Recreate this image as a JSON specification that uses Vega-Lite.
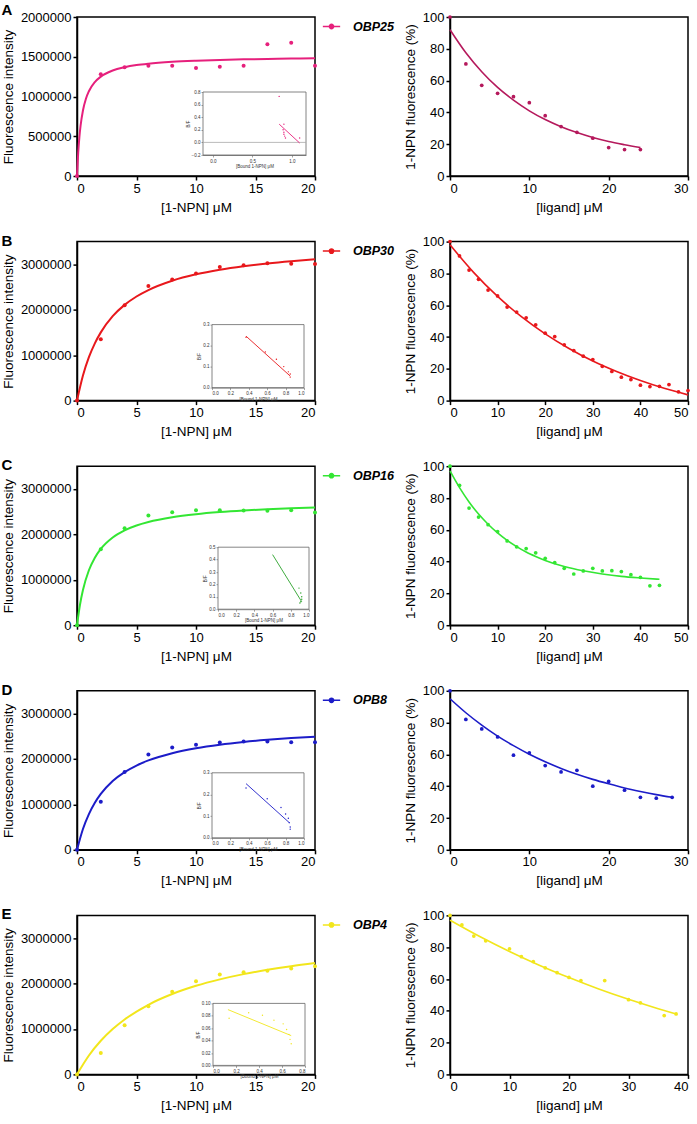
{
"$schema": "https://vega.github.io/schema/vega-lite/v6.json",
"padding": {"left": 0, "top": 2, "right": 0, "bottom": 0},
"background": "white",
"config": {
  "font": "Liberation Sans",
  "view": {"stroke": "black", "strokeWidth": 1.5},
  "axis": {"grid": false, "labelOverlap": false, "domainColor": "black", "domainWidth": 1.5, "tickColor": "black", "tickWidth": 1.5, "tickSize": 4, "labelFontSize": 13, "labelColor": "black", "titleFontSize": 13.5, "titleFontWeight": "normal", "titleColor": "black", "labelPadding": 2, "titlePadding": 5},
  "title": {"fontSize": 15, "fontWeight": "bold", "anchor": "start", "frame": "bounds", "offset": -7, "color": "black"},
  "legend": {"orient": "right", "offset": 7, "padding": 0, "title": null, "symbolType": "M-1,0H1M-0.25,0A0.25,0.25,0,1,1,0.25,0A0.25,0.25,0,1,1,-0.25,0Z", "symbolSize": 300, "symbolStrokeWidth": 1.5, "labelFontSize": 12.5, "labelFontStyle": "italic", "labelFontWeight": "bold", "labelColor": "black", "labelOffset": 12}
},
"datasets": {
  "a_pts": [{"conc":0,"intensity":0},{"conc":2,"intensity":1281000},{"conc":4,"intensity":1369000},{"conc":6,"intensity":1387000},{"conc":8,"intensity":1387000},{"conc":10,"intensity":1357000},{"conc":12,"intensity":1374000},{"conc":14,"intensity":1387000},{"conc":16,"intensity":1656000},{"conc":18,"intensity":1677000},{"conc":20,"intensity":1387000}],
  "a_fit": [{"conc":0,"intensity":0},{"conc":0.1,"intensity":292000},{"conc":0.2,"intensity":490000},{"conc":0.3,"intensity":632000},{"conc":0.5,"intensity":824000},{"conc":0.75,"intensity":971000},{"conc":1,"intensity":1066000},{"conc":1.5,"intensity":1182000},{"conc":2,"intensity":1250000},{"conc":3,"intensity":1327000},{"conc":4,"intensity":1368000},{"conc":5,"intensity":1395000},{"conc":6,"intensity":1413000},{"conc":8,"intensity":1436000},{"conc":10,"intensity":1450000},{"conc":12,"intensity":1460000},{"conc":14,"intensity":1467000},{"conc":16,"intensity":1472000},{"conc":18,"intensity":1477000},{"conc":20,"intensity":1480000}],
  "a_ins_pts": [{"bound":0.84,"bf":0.73},{"bound":0.9,"bf":0.29},{"bound":0.89,"bf":0.2},{"bound":0.9,"bf":0.16},{"bound":0.9,"bf":0.13},{"bound":0.91,"bf":0.1},{"bound":0.92,"bf":0.07},{"bound":1.1,"bf":0.07}],
  "a_ins_fit": [{"bound":0.84,"bf":0.29},{"bound":1.1,"bf":-0.01}],
  "a_cpts": [{"ligand":0,"pct":100},{"ligand":2,"pct":70.5},{"ligand":4,"pct":57},{"ligand":6,"pct":52},{"ligand":8,"pct":49.9},{"ligand":10,"pct":46.1},{"ligand":12,"pct":37.9},{"ligand":14,"pct":31.1},{"ligand":16,"pct":27.5},{"ligand":18,"pct":23.8},{"ligand":20,"pct":17.9},{"ligand":22,"pct":16.6},{"ligand":24,"pct":16.6}],
  "a_cfit": [{"ligand":0,"pct":92},{"ligand":2,"pct":77.5},{"ligand":4,"pct":65.6},{"ligand":6,"pct":55.7},{"ligand":8,"pct":47.7},{"ligand":10,"pct":41},{"ligand":12,"pct":35.5},{"ligand":14,"pct":31},{"ligand":16,"pct":27.3},{"ligand":18,"pct":24.2},{"ligand":20,"pct":21.7},{"ligand":22,"pct":19.7},{"ligand":24,"pct":17.9}],
  "b_pts": [{"conc":0,"intensity":0},{"conc":2,"intensity":1349000},{"conc":4,"intensity":2098000},{"conc":6,"intensity":2520000},{"conc":8,"intensity":2667000},{"conc":10,"intensity":2800000},{"conc":12,"intensity":2942000},{"conc":14,"intensity":2978000},{"conc":16,"intensity":3022000},{"conc":18,"intensity":3015000},{"conc":20,"intensity":3008000}],
  "b_fit": [{"conc":0,"intensity":0},{"conc":0.5,"intensity":551000},{"conc":1,"intensity":955000},{"conc":1.5,"intensity":1261000},{"conc":2,"intensity":1502000},{"conc":3,"intensity":1858000},{"conc":4,"intensity":2107000},{"conc":5,"intensity":2292000},{"conc":6,"intensity":2434000},{"conc":8,"intensity":2639000},{"conc":10,"intensity":2780000},{"conc":12,"intensity":2882000},{"conc":14,"intensity":2959000},{"conc":16,"intensity":3020000},{"conc":18,"intensity":3069000},{"conc":20,"intensity":3110000}],
  "b_ins_pts": [{"bound":0.37,"bf":0.24},{"bound":0.58,"bf":0.17},{"bound":0.7,"bf":0.135},{"bound":0.78,"bf":0.1},{"bound":0.83,"bf":0.075},{"bound":0.85,"bf":0.065},{"bound":0.85,"bf":0.05}],
  "b_ins_fit": [{"bound":0.37,"bf":0.245},{"bound":0.85,"bf":0.055}],
  "b_cpts": [{"ligand":0,"pct":100},{"ligand":2,"pct":91},{"ligand":4,"pct":82.1},{"ligand":6,"pct":76.3},{"ligand":8,"pct":69.5},{"ligand":10,"pct":65.8},{"ligand":12,"pct":58.8},{"ligand":14,"pct":55.7},{"ligand":16,"pct":52.1},{"ligand":18,"pct":47.7},{"ligand":20,"pct":42.4},{"ligand":22,"pct":40.3},{"ligand":24,"pct":35.1},{"ligand":26,"pct":31.5},{"ligand":28,"pct":27.9},{"ligand":30,"pct":25.8},{"ligand":32,"pct":21.6},{"ligand":34,"pct":18.3},{"ligand":36,"pct":14.7},{"ligand":38,"pct":13.2},{"ligand":40,"pct":9.7},{"ligand":42,"pct":8.8},{"ligand":44,"pct":9},{"ligand":46,"pct":10.1},{"ligand":48,"pct":5.5},{"ligand":50,"pct":6.3}],
  "b_cfit": [{"ligand":0,"pct":98},{"ligand":5,"pct":80.5},{"ligand":10,"pct":65.5},{"ligand":15,"pct":52.8},{"ligand":20,"pct":42},{"ligand":25,"pct":32.8},{"ligand":30,"pct":24.9},{"ligand":35,"pct":18.3},{"ligand":40,"pct":12.6},{"ligand":45,"pct":7.7},{"ligand":50,"pct":3.6}],
  "c_pts": [{"conc":0,"intensity":0},{"conc":2,"intensity":1673000},{"conc":4,"intensity":2133000},{"conc":6,"intensity":2413000},{"conc":8,"intensity":2489000},{"conc":10,"intensity":2533000},{"conc":12,"intensity":2533000},{"conc":14,"intensity":2526000},{"conc":16,"intensity":2518000},{"conc":18,"intensity":2533000},{"conc":20,"intensity":2480000}],
  "c_fit": [{"conc":0,"intensity":0},{"conc":0.25,"intensity":450000},{"conc":0.5,"intensity":774000},{"conc":1,"intensity":1209000},{"conc":1.5,"intensity":1487000},{"conc":2,"intensity":1680000},{"conc":3,"intensity":1932000},{"conc":4,"intensity":2088000},{"conc":5,"intensity":2194000},{"conc":6,"intensity":2271000},{"conc":8,"intensity":2376000},{"conc":10,"intensity":2443000},{"conc":12,"intensity":2490000},{"conc":14,"intensity":2525000},{"conc":16,"intensity":2552000},{"conc":18,"intensity":2573000},{"conc":20,"intensity":2590000}],
  "c_ins_pts": [{"bound":0.89,"bf":0.17},{"bound":0.91,"bf":0.13},{"bound":0.92,"bf":0.1},{"bound":0.92,"bf":0.08},{"bound":0.91,"bf":0.06},{"bound":0.9,"bf":0.05}],
  "c_ins_fit": [{"bound":0.6,"bf":0.44},{"bound":0.92,"bf":0.06}],
  "c_cpts": [{"ligand":0,"pct":100},{"ligand":2,"pct":88},{"ligand":4,"pct":73.7},{"ligand":6,"pct":68},{"ligand":8,"pct":63.2},{"ligand":10,"pct":58.9},{"ligand":12,"pct":53},{"ligand":14,"pct":49.3},{"ligand":16,"pct":48.2},{"ligand":18,"pct":45.5},{"ligand":20,"pct":42.1},{"ligand":22,"pct":39.4},{"ligand":24,"pct":35.8},{"ligand":26,"pct":32.2},{"ligand":28,"pct":34.1},{"ligand":30,"pct":35.8},{"ligand":32,"pct":34.1},{"ligand":34,"pct":34.3},{"ligand":36,"pct":33.7},{"ligand":38,"pct":31.8},{"ligand":40,"pct":30.1},{"ligand":42,"pct":24.8},{"ligand":44,"pct":25.1}],
  "c_cfit": [{"ligand":0,"pct":97},{"ligand":2,"pct":86.5},{"ligand":4,"pct":77.5},{"ligand":6,"pct":69.9},{"ligand":8,"pct":63.5},{"ligand":10,"pct":58},{"ligand":12,"pct":53.3},{"ligand":14,"pct":49.4},{"ligand":16,"pct":46},{"ligand":18,"pct":43.2},{"ligand":20,"pct":40.7},{"ligand":24,"pct":36.9},{"ligand":28,"pct":34.2},{"ligand":32,"pct":32.2},{"ligand":36,"pct":30.7},{"ligand":40,"pct":29.7},{"ligand":44,"pct":28.9}],
  "d_pts": [{"conc":0,"intensity":0},{"conc":2,"intensity":1055000},{"conc":4,"intensity":1711000},{"conc":6,"intensity":2100000},{"conc":8,"intensity":2250000},{"conc":10,"intensity":2310000},{"conc":12,"intensity":2360000},{"conc":14,"intensity":2383000},{"conc":16,"intensity":2383000},{"conc":18,"intensity":2368000},{"conc":20,"intensity":2368000}],
  "d_fit": [{"conc":0,"intensity":0},{"conc":0.5,"intensity":457000},{"conc":1,"intensity":786000},{"conc":1.5,"intensity":1035000},{"conc":2,"intensity":1229000},{"conc":3,"intensity":1513000},{"conc":4,"intensity":1710000},{"conc":5,"intensity":1855000},{"conc":6,"intensity":1967000},{"conc":8,"intensity":2126000},{"conc":10,"intensity":2235000},{"conc":12,"intensity":2314000},{"conc":14,"intensity":2374000},{"conc":16,"intensity":2421000},{"conc":18,"intensity":2459000},{"conc":20,"intensity":2490000}],
  "d_ins_pts": [{"bound":0.37,"bf":0.23},{"bound":0.6,"bf":0.18},{"bound":0.75,"bf":0.14},{"bound":0.8,"bf":0.11},{"bound":0.83,"bf":0.09},{"bound":0.84,"bf":0.07},{"bound":0.85,"bf":0.05},{"bound":0.85,"bf":0.04}],
  "d_ins_fit": [{"bound":0.37,"bf":0.25},{"bound":0.84,"bf":0.07}],
  "d_cpts": [{"ligand":0,"pct":100},{"ligand":2,"pct":82},{"ligand":4,"pct":76},{"ligand":6,"pct":71},{"ligand":8,"pct":59.5},{"ligand":10,"pct":61},{"ligand":12,"pct":53},{"ligand":14,"pct":49},{"ligand":16,"pct":50},{"ligand":18,"pct":40},{"ligand":20,"pct":43},{"ligand":22,"pct":37.5},{"ligand":24,"pct":33},{"ligand":26,"pct":32.5},{"ligand":28,"pct":33}],
  "d_cfit": [{"ligand":0,"pct":95},{"ligand":2,"pct":86.2},{"ligand":4,"pct":78.4},{"ligand":6,"pct":71.5},{"ligand":8,"pct":65.5},{"ligand":10,"pct":60.1},{"ligand":12,"pct":55.4},{"ligand":14,"pct":51.2},{"ligand":16,"pct":47.5},{"ligand":18,"pct":44.3},{"ligand":20,"pct":41.5},{"ligand":22,"pct":38.9},{"ligand":24,"pct":36.7},{"ligand":26,"pct":34.7},{"ligand":28,"pct":33}],
  "e_pts": [{"conc":0,"intensity":0},{"conc":2,"intensity":470000},{"conc":4,"intensity":1080000},{"conc":6,"intensity":1500000},{"conc":8,"intensity":1820000},{"conc":10,"intensity":2050000},{"conc":12,"intensity":2200000},{"conc":14,"intensity":2250000},{"conc":16,"intensity":2280000},{"conc":18,"intensity":2330000},{"conc":20,"intensity":2380000}],
  "e_fit": [{"conc":0,"intensity":0},{"conc":1,"intensity":417000},{"conc":2,"intensity":740000},{"conc":3,"intensity":998000},{"conc":4,"intensity":1209000},{"conc":6,"intensity":1533000},{"conc":8,"intensity":1769000},{"conc":10,"intensity":1950000},{"conc":12,"intensity":2092000},{"conc":14,"intensity":2207000},{"conc":16,"intensity":2302000},{"conc":18,"intensity":2382000},{"conc":20,"intensity":2450000}],
  "e_ins_pts": [{"bound":0.14,"bf":0.076},{"bound":0.31,"bf":0.085},{"bound":0.43,"bf":0.081},{"bound":0.53,"bf":0.073},{"bound":0.61,"bf":0.067},{"bound":0.64,"bf":0.058},{"bound":0.66,"bf":0.05},{"bound":0.67,"bf":0.042},{"bound":0.68,"bf":0.035}],
  "e_ins_fit": [{"bound":0.13,"bf":0.09},{"bound":0.68,"bf":0.048}],
  "e_cpts": [{"ligand":0,"pct":100},{"ligand":2,"pct":94},{"ligand":4,"pct":87},{"ligand":6,"pct":84},{"ligand":10,"pct":79},{"ligand":12,"pct":74},{"ligand":14,"pct":71},{"ligand":16,"pct":67},{"ligand":18,"pct":64},{"ligand":20,"pct":61},{"ligand":22,"pct":59},{"ligand":26,"pct":59},{"ligand":30,"pct":47},{"ligand":32,"pct":45},{"ligand":36,"pct":37},{"ligand":38,"pct":38}],
  "e_cfit": [{"ligand":0,"pct":97},{"ligand":5,"pct":86.7},{"ligand":10,"pct":77.3},{"ligand":15,"pct":68.7},{"ligand":20,"pct":60.9},{"ligand":25,"pct":53.7},{"ligand":30,"pct":47.2},{"ligand":35,"pct":41.3},{"ligand":38,"pct":38}]
},
"concat": [
  {"width": 238, "height": 159, "title": "A",
   "layer": [
    {"layer": [
      {"data": {"name": "a_fit"}, "mark": {"type": "line", "strokeWidth": 2, "interpolate": "monotone"},
       "encoding": {"x": {"field": "conc", "type": "quantitative", "scale": {"domain": [0, 20], "nice": false}, "axis": {"values": [0, 5, 10, 15, 20], "tickCount": 20, "title": "[1-NPN] μM", "labelOverlap": false}},
                    "y": {"field": "intensity", "type": "quantitative", "scale": {"domain": [0, 2000000], "nice": false}, "axis": {"values": [0, 500000, 1000000, 1500000, 2000000], "tickCount": 20, "format": "d", "title": "Fluorescence intensity", "labelOverlap": false}},
                    "color": {"datum": "OBP25", "type": "nominal", "scale": {"range": ["#e6207c"]}}}},
      {"data": {"name": "a_pts"}, "mark": {"type": "circle", "size": 16, "opacity": 1},
       "encoding": {"x": {"field": "conc", "type": "quantitative"}, "y": {"field": "intensity", "type": "quantitative"}, "color": {"datum": "OBP25", "type": "nominal"}}}
    ]},
    {"layer": [
      {"data": {"values": [{}]}, "mark": {"type": "rect", "fill": "white", "stroke": "#666", "strokeWidth": 0.8},
       "encoding": {"x": {"datum": -0.125, "type": "quantitative", "scale": {"domain": [-0.125, 1.18], "range": [126, 229], "nice": false, "zero": false},
                          "axis": {"orient": "bottom", "offset": -21, "values": [0, 0.5, 1], "tickCount": 20, "format": ".1f", "title": "[Bound 1-NPN] μM", "labelOverlap": false, "labelFontSize": 4.5, "titleFontSize": 4.5, "tickSize": 2, "labelPadding": 1, "titlePadding": 1, "domainColor": "#666", "tickColor": "#666", "domainWidth": 0.8, "tickWidth": 0.6, "labelColor": "#333", "titleColor": "#333"}},
                    "x2": {"datum": 1.18},
                    "y": {"datum": -0.2, "type": "quantitative", "scale": {"domain": [-0.2, 0.8], "range": [138, 75], "nice": false, "zero": false},
                          "axis": {"orient": "left", "offset": -126, "values": [-0.2, 0, 0.2, 0.4, 0.6, 0.8], "tickCount": 20, "format": ".1f", "title": "B/F", "labelOverlap": false, "labelFontSize": 4.5, "titleFontSize": 4.5, "tickSize": 2, "labelPadding": 1, "titlePadding": 1, "domainColor": "#666", "tickColor": "#666", "domainWidth": 0.8, "tickWidth": 0.6, "labelColor": "#333", "titleColor": "#333"}},
                    "y2": {"datum": 0.8}}},
      {"data": {"values": [{}]}, "mark": {"type": "rule", "color": "#aaa", "strokeWidth": 0.8},
       "encoding": {"x": {"datum": -0.125, "type": "quantitative"}, "x2": {"datum": 1.18}, "y": {"datum": 0, "type": "quantitative"}}},
      {"data": {"name": "a_ins_fit"}, "mark": {"type": "line", "color": "#e6207c", "strokeWidth": 0.9},
       "encoding": {"x": {"field": "bound", "type": "quantitative"}, "y": {"field": "bf", "type": "quantitative"}}},
      {"data": {"name": "a_ins_pts"}, "mark": {"type": "circle", "color": "#e6207c", "size": 2, "opacity": 1},
       "encoding": {"x": {"field": "bound", "type": "quantitative"}, "y": {"field": "bf", "type": "quantitative"}}}
    ]}
   ],
   "resolve": {"scale": {"x": "independent", "y": "independent"}}
  },
  {"width": 238, "height": 159,
   "layer": [
    {"data": {"name": "a_cfit"}, "mark": {"type": "line", "color": "#b5195c", "strokeWidth": 1.6, "interpolate": "monotone"},
     "encoding": {"x": {"field": "ligand", "type": "quantitative", "scale": {"domain": [0, 30], "nice": false}, "axis": {"values": [0, 10, 20, 30], "tickCount": 20, "title": "[ligand] μM", "labelOverlap": false}},
                  "y": {"field": "pct", "type": "quantitative", "scale": {"domain": [0, 100], "nice": false}, "axis": {"values": [0, 20, 40, 60, 80, 100], "tickCount": 20, "title": "1-NPN fluorescence (%)", "labelOverlap": false}}}},
    {"data": {"name": "a_cpts"}, "mark": {"type": "circle", "color": "#b5195c", "size": 14, "opacity": 1},
     "encoding": {"x": {"field": "ligand", "type": "quantitative"}, "y": {"field": "pct", "type": "quantitative"}}}
   ]},

  {"width": 238, "height": 159, "title": "B",
   "layer": [
    {"layer": [
      {"data": {"name": "b_fit"}, "mark": {"type": "line", "strokeWidth": 2, "interpolate": "monotone"},
       "encoding": {"x": {"field": "conc", "type": "quantitative", "scale": {"domain": [0, 20], "nice": false}, "axis": {"values": [0, 5, 10, 15, 20], "tickCount": 20, "title": "[1-NPN] μM", "labelOverlap": false}},
                    "y": {"field": "intensity", "type": "quantitative", "scale": {"domain": [0, 3500000], "nice": false}, "axis": {"values": [0, 1000000, 2000000, 3000000], "tickCount": 20, "format": "d", "title": "Fluorescence intensity", "labelOverlap": false}},
                    "color": {"datum": "OBP30", "type": "nominal", "scale": {"range": ["#e8181c"]}}}},
      {"data": {"name": "b_pts"}, "mark": {"type": "circle", "size": 16, "opacity": 1},
       "encoding": {"x": {"field": "conc", "type": "quantitative"}, "y": {"field": "intensity", "type": "quantitative"}, "color": {"datum": "OBP30", "type": "nominal"}}}
    ]},
    {"layer": [
      {"data": {"values": [{}]}, "mark": {"type": "rect", "fill": "white", "stroke": "#666", "strokeWidth": 0.8},
       "encoding": {"x": {"datum": 0, "type": "quantitative", "scale": {"domain": [0, 1], "range": [135, 227], "nice": false, "zero": false},
                          "axis": {"orient": "bottom", "offset": -13, "values": [0, 0.2, 0.4, 0.6, 0.8, 1], "tickCount": 20, "format": ".1f", "title": "[Bound 1-NPN] μM", "labelOverlap": false, "labelFontSize": 4.5, "titleFontSize": 4.5, "tickSize": 2, "labelPadding": 1, "titlePadding": 1, "domainColor": "#666", "tickColor": "#666", "domainWidth": 0.8, "tickWidth": 0.6, "labelColor": "#333", "titleColor": "#333"}},
                    "x2": {"datum": 1},
                    "y": {"datum": 0, "type": "quantitative", "scale": {"domain": [0, 0.3], "range": [146, 83], "nice": false, "zero": false},
                          "axis": {"orient": "left", "offset": -135, "values": [0, 0.1, 0.2, 0.3], "tickCount": 20, "format": ".1f", "title": "B/F", "labelOverlap": false, "labelFontSize": 4.5, "titleFontSize": 4.5, "tickSize": 2, "labelPadding": 1, "titlePadding": 1, "domainColor": "#666", "tickColor": "#666", "domainWidth": 0.8, "tickWidth": 0.6, "labelColor": "#333", "titleColor": "#333"}},
                    "y2": {"datum": 0.3}}},
      {"data": {"name": "b_ins_fit"}, "mark": {"type": "line", "color": "#e8181c", "strokeWidth": 0.9},
       "encoding": {"x": {"field": "bound", "type": "quantitative"}, "y": {"field": "bf", "type": "quantitative"}}},
      {"data": {"name": "b_ins_pts"}, "mark": {"type": "circle", "color": "#e8181c", "size": 2, "opacity": 1},
       "encoding": {"x": {"field": "bound", "type": "quantitative"}, "y": {"field": "bf", "type": "quantitative"}}}
    ]}
   ],
   "resolve": {"scale": {"x": "independent", "y": "independent"}}
  },
  {"width": 238, "height": 159,
   "layer": [
    {"data": {"name": "b_cfit"}, "mark": {"type": "line", "color": "#e8181c", "strokeWidth": 1.6, "interpolate": "monotone"},
     "encoding": {"x": {"field": "ligand", "type": "quantitative", "scale": {"domain": [0, 50], "nice": false}, "axis": {"values": [0, 10, 20, 30, 40, 50], "tickCount": 20, "title": "[ligand] μM", "labelOverlap": false}},
                  "y": {"field": "pct", "type": "quantitative", "scale": {"domain": [0, 100], "nice": false}, "axis": {"values": [0, 20, 40, 60, 80, 100], "tickCount": 20, "title": "1-NPN fluorescence (%)", "labelOverlap": false}}}},
    {"data": {"name": "b_cpts"}, "mark": {"type": "circle", "color": "#e8181c", "size": 14, "opacity": 1},
     "encoding": {"x": {"field": "ligand", "type": "quantitative"}, "y": {"field": "pct", "type": "quantitative"}}}
   ]},

  {"width": 238, "height": 159, "title": "C",
   "layer": [
    {"layer": [
      {"data": {"name": "c_fit"}, "mark": {"type": "line", "strokeWidth": 2, "interpolate": "monotone"},
       "encoding": {"x": {"field": "conc", "type": "quantitative", "scale": {"domain": [0, 20], "nice": false}, "axis": {"values": [0, 5, 10, 15, 20], "tickCount": 20, "title": "[1-NPN] μM", "labelOverlap": false}},
                    "y": {"field": "intensity", "type": "quantitative", "scale": {"domain": [0, 3500000], "nice": false}, "axis": {"values": [0, 1000000, 2000000, 3000000], "tickCount": 20, "format": "d", "title": "Fluorescence intensity", "labelOverlap": false}},
                    "color": {"datum": "OBP16", "type": "nominal", "scale": {"range": ["#33e633"]}}}},
      {"data": {"name": "c_pts"}, "mark": {"type": "circle", "size": 16, "opacity": 1},
       "encoding": {"x": {"field": "conc", "type": "quantitative"}, "y": {"field": "intensity", "type": "quantitative"}, "color": {"datum": "OBP16", "type": "nominal"}}}
    ]},
    {"layer": [
      {"data": {"values": [{}]}, "mark": {"type": "rect", "fill": "white", "stroke": "#666", "strokeWidth": 0.8},
       "encoding": {"x": {"datum": 0, "type": "quantitative", "scale": {"domain": [0, 1], "range": [141, 232], "nice": false, "zero": false},
                          "axis": {"orient": "bottom", "offset": -16, "values": [0, 0.2, 0.4, 0.6, 0.8, 1], "tickCount": 20, "format": ".1f", "title": "[Bound 1-NPN] μM", "labelOverlap": false, "labelFontSize": 4.5, "titleFontSize": 4.5, "tickSize": 2, "labelPadding": 1, "titlePadding": 1, "domainColor": "#666", "tickColor": "#666", "domainWidth": 0.8, "tickWidth": 0.6, "labelColor": "#333", "titleColor": "#333"}},
                    "x2": {"datum": 1},
                    "y": {"datum": 0, "type": "quantitative", "scale": {"domain": [0, 0.5], "range": [143, 81], "nice": false, "zero": false},
                          "axis": {"orient": "left", "offset": -141, "values": [0, 0.1, 0.2, 0.3, 0.4, 0.5], "tickCount": 20, "format": ".1f", "title": "B/F", "labelOverlap": false, "labelFontSize": 4.5, "titleFontSize": 4.5, "tickSize": 2, "labelPadding": 1, "titlePadding": 1, "domainColor": "#666", "tickColor": "#666", "domainWidth": 0.8, "tickWidth": 0.6, "labelColor": "#333", "titleColor": "#333"}},
                    "y2": {"datum": 0.5}}},
      {"data": {"name": "c_ins_fit"}, "mark": {"type": "line", "color": "#2aa12a", "strokeWidth": 0.9},
       "encoding": {"x": {"field": "bound", "type": "quantitative"}, "y": {"field": "bf", "type": "quantitative"}}},
      {"data": {"name": "c_ins_pts"}, "mark": {"type": "circle", "color": "#2aa12a", "size": 2, "opacity": 1},
       "encoding": {"x": {"field": "bound", "type": "quantitative"}, "y": {"field": "bf", "type": "quantitative"}}}
    ]}
   ],
   "resolve": {"scale": {"x": "independent", "y": "independent"}}
  },
  {"width": 238, "height": 159,
   "layer": [
    {"data": {"name": "c_cfit"}, "mark": {"type": "line", "color": "#33e633", "strokeWidth": 1.6, "interpolate": "monotone"},
     "encoding": {"x": {"field": "ligand", "type": "quantitative", "scale": {"domain": [0, 50], "nice": false}, "axis": {"values": [0, 10, 20, 30, 40, 50], "tickCount": 20, "title": "[ligand] μM", "labelOverlap": false}},
                  "y": {"field": "pct", "type": "quantitative", "scale": {"domain": [0, 100], "nice": false}, "axis": {"values": [0, 20, 40, 60, 80, 100], "tickCount": 20, "title": "1-NPN fluorescence (%)", "labelOverlap": false}}}},
    {"data": {"name": "c_cpts"}, "mark": {"type": "circle", "color": "#33e633", "size": 14, "opacity": 1},
     "encoding": {"x": {"field": "ligand", "type": "quantitative"}, "y": {"field": "pct", "type": "quantitative"}}}
   ]},

  {"width": 238, "height": 159, "title": "D",
   "layer": [
    {"layer": [
      {"data": {"name": "d_fit"}, "mark": {"type": "line", "strokeWidth": 2, "interpolate": "monotone"},
       "encoding": {"x": {"field": "conc", "type": "quantitative", "scale": {"domain": [0, 20], "nice": false}, "axis": {"values": [0, 5, 10, 15, 20], "tickCount": 20, "title": "[1-NPN] μM", "labelOverlap": false}},
                    "y": {"field": "intensity", "type": "quantitative", "scale": {"domain": [0, 3500000], "nice": false}, "axis": {"values": [0, 1000000, 2000000, 3000000], "tickCount": 20, "format": "d", "title": "Fluorescence intensity", "labelOverlap": false}},
                    "color": {"datum": "OPB8", "type": "nominal", "scale": {"range": ["#1c1cc8"]}}}},
      {"data": {"name": "d_pts"}, "mark": {"type": "circle", "size": 16, "opacity": 1},
       "encoding": {"x": {"field": "conc", "type": "quantitative"}, "y": {"field": "intensity", "type": "quantitative"}, "color": {"datum": "OPB8", "type": "nominal"}}}
    ]},
    {"layer": [
      {"data": {"values": [{}]}, "mark": {"type": "rect", "fill": "white", "stroke": "#666", "strokeWidth": 0.8},
       "encoding": {"x": {"datum": 0, "type": "quantitative", "scale": {"domain": [0, 1], "range": [135, 227], "nice": false, "zero": false},
                          "axis": {"orient": "bottom", "offset": -12, "values": [0, 0.2, 0.4, 0.6, 0.8, 1], "tickCount": 20, "format": ".1f", "title": "[Bound 1-NPN] μM", "labelOverlap": false, "labelFontSize": 4.5, "titleFontSize": 4.5, "tickSize": 2, "labelPadding": 1, "titlePadding": 1, "domainColor": "#666", "tickColor": "#666", "domainWidth": 0.8, "tickWidth": 0.6, "labelColor": "#333", "titleColor": "#333"}},
                    "x2": {"datum": 1},
                    "y": {"datum": 0, "type": "quantitative", "scale": {"domain": [0, 0.3], "range": [147, 82], "nice": false, "zero": false},
                          "axis": {"orient": "left", "offset": -135, "values": [0, 0.1, 0.2, 0.3], "tickCount": 20, "format": ".1f", "title": "B/F", "labelOverlap": false, "labelFontSize": 4.5, "titleFontSize": 4.5, "tickSize": 2, "labelPadding": 1, "titlePadding": 1, "domainColor": "#666", "tickColor": "#666", "domainWidth": 0.8, "tickWidth": 0.6, "labelColor": "#333", "titleColor": "#333"}},
                    "y2": {"datum": 0.3}}},
      {"data": {"name": "d_ins_fit"}, "mark": {"type": "line", "color": "#1c1cc8", "strokeWidth": 0.9},
       "encoding": {"x": {"field": "bound", "type": "quantitative"}, "y": {"field": "bf", "type": "quantitative"}}},
      {"data": {"name": "d_ins_pts"}, "mark": {"type": "circle", "color": "#1c1cc8", "size": 2, "opacity": 1},
       "encoding": {"x": {"field": "bound", "type": "quantitative"}, "y": {"field": "bf", "type": "quantitative"}}}
    ]}
   ],
   "resolve": {"scale": {"x": "independent", "y": "independent"}}
  },
  {"width": 238, "height": 159,
   "layer": [
    {"data": {"name": "d_cfit"}, "mark": {"type": "line", "color": "#1c1cc8", "strokeWidth": 1.6, "interpolate": "monotone"},
     "encoding": {"x": {"field": "ligand", "type": "quantitative", "scale": {"domain": [0, 30], "nice": false}, "axis": {"values": [0, 10, 20, 30], "tickCount": 20, "title": "[ligand] μM", "labelOverlap": false}},
                  "y": {"field": "pct", "type": "quantitative", "scale": {"domain": [0, 100], "nice": false}, "axis": {"values": [0, 20, 40, 60, 80, 100], "tickCount": 20, "title": "1-NPN fluorescence (%)", "labelOverlap": false}}}},
    {"data": {"name": "d_cpts"}, "mark": {"type": "circle", "color": "#1c1cc8", "size": 14, "opacity": 1},
     "encoding": {"x": {"field": "ligand", "type": "quantitative"}, "y": {"field": "pct", "type": "quantitative"}}}
   ]},

  {"width": 238, "height": 159, "title": "E",
   "layer": [
    {"layer": [
      {"data": {"name": "e_fit"}, "mark": {"type": "line", "strokeWidth": 2, "interpolate": "monotone"},
       "encoding": {"x": {"field": "conc", "type": "quantitative", "scale": {"domain": [0, 20], "nice": false}, "axis": {"values": [0, 5, 10, 15, 20], "tickCount": 20, "title": "[1-NPN] μM", "labelOverlap": false}},
                    "y": {"field": "intensity", "type": "quantitative", "scale": {"domain": [0, 3500000], "nice": false}, "axis": {"values": [0, 1000000, 2000000, 3000000], "tickCount": 20, "format": "d", "title": "Fluorescence intensity", "labelOverlap": false}},
                    "color": {"datum": "OBP4", "type": "nominal", "scale": {"range": ["#f2e61c"]}}}},
      {"data": {"name": "e_pts"}, "mark": {"type": "circle", "size": 16, "opacity": 1},
       "encoding": {"x": {"field": "conc", "type": "quantitative"}, "y": {"field": "intensity", "type": "quantitative"}, "color": {"datum": "OBP4", "type": "nominal"}}}
    ]},
    {"layer": [
      {"data": {"values": [{}]}, "mark": {"type": "rect", "fill": "white", "stroke": "#666", "strokeWidth": 0.8},
       "encoding": {"x": {"datum": 0, "type": "quantitative", "scale": {"domain": [0, 0.8], "range": [136, 228], "nice": false, "zero": false},
                          "axis": {"orient": "bottom", "offset": -9, "values": [0, 0.2, 0.4, 0.6, 0.8], "tickCount": 20, "format": ".1f", "title": "[Bound 1-NPN] μM", "labelOverlap": false, "labelFontSize": 4.5, "titleFontSize": 4.5, "tickSize": 2, "labelPadding": 1, "titlePadding": 1, "domainColor": "#666", "tickColor": "#666", "domainWidth": 0.8, "tickWidth": 0.6, "labelColor": "#333", "titleColor": "#333"}},
                    "x2": {"datum": 0.8},
                    "y": {"datum": 0, "type": "quantitative", "scale": {"domain": [0, 0.1], "range": [150, 88], "nice": false, "zero": false},
                          "axis": {"orient": "left", "offset": -136, "values": [0, 0.02, 0.04, 0.06, 0.08, 0.1], "tickCount": 20, "format": ".2f", "title": "B/F", "labelOverlap": false, "labelFontSize": 4.5, "titleFontSize": 4.5, "tickSize": 2, "labelPadding": 1, "titlePadding": 1, "domainColor": "#666", "tickColor": "#666", "domainWidth": 0.8, "tickWidth": 0.6, "labelColor": "#333", "titleColor": "#333"}},
                    "y2": {"datum": 0.1}}},
      {"data": {"name": "e_ins_fit"}, "mark": {"type": "line", "color": "#f2e61c", "strokeWidth": 0.9},
       "encoding": {"x": {"field": "bound", "type": "quantitative"}, "y": {"field": "bf", "type": "quantitative"}}},
      {"data": {"name": "e_ins_pts"}, "mark": {"type": "circle", "color": "#f2e61c", "size": 2, "opacity": 1},
       "encoding": {"x": {"field": "bound", "type": "quantitative"}, "y": {"field": "bf", "type": "quantitative"}}}
    ]}
   ],
   "resolve": {"scale": {"x": "independent", "y": "independent"}}
  },
  {"width": 238, "height": 159,
   "layer": [
    {"data": {"name": "e_cfit"}, "mark": {"type": "line", "color": "#f2e61c", "strokeWidth": 1.6, "interpolate": "monotone"},
     "encoding": {"x": {"field": "ligand", "type": "quantitative", "scale": {"domain": [0, 40], "nice": false}, "axis": {"values": [0, 10, 20, 30, 40], "tickCount": 20, "title": "[ligand] μM", "labelOverlap": false}},
                  "y": {"field": "pct", "type": "quantitative", "scale": {"domain": [0, 100], "nice": false}, "axis": {"values": [0, 20, 40, 60, 80, 100], "tickCount": 20, "title": "1-NPN fluorescence (%)", "labelOverlap": false}}}},
    {"data": {"name": "e_cpts"}, "mark": {"type": "circle", "color": "#f2e61c", "size": 14, "opacity": 1},
     "encoding": {"x": {"field": "ligand", "type": "quantitative"}, "y": {"field": "pct", "type": "quantitative"}}}
   ]}
],
"columns": 2,
"spacing": {"row": 65.6, "column": 135},
"bounds": "flush",
"resolve": {"scale": {"color": "independent"}, "legend": {"color": "independent"}}
}
